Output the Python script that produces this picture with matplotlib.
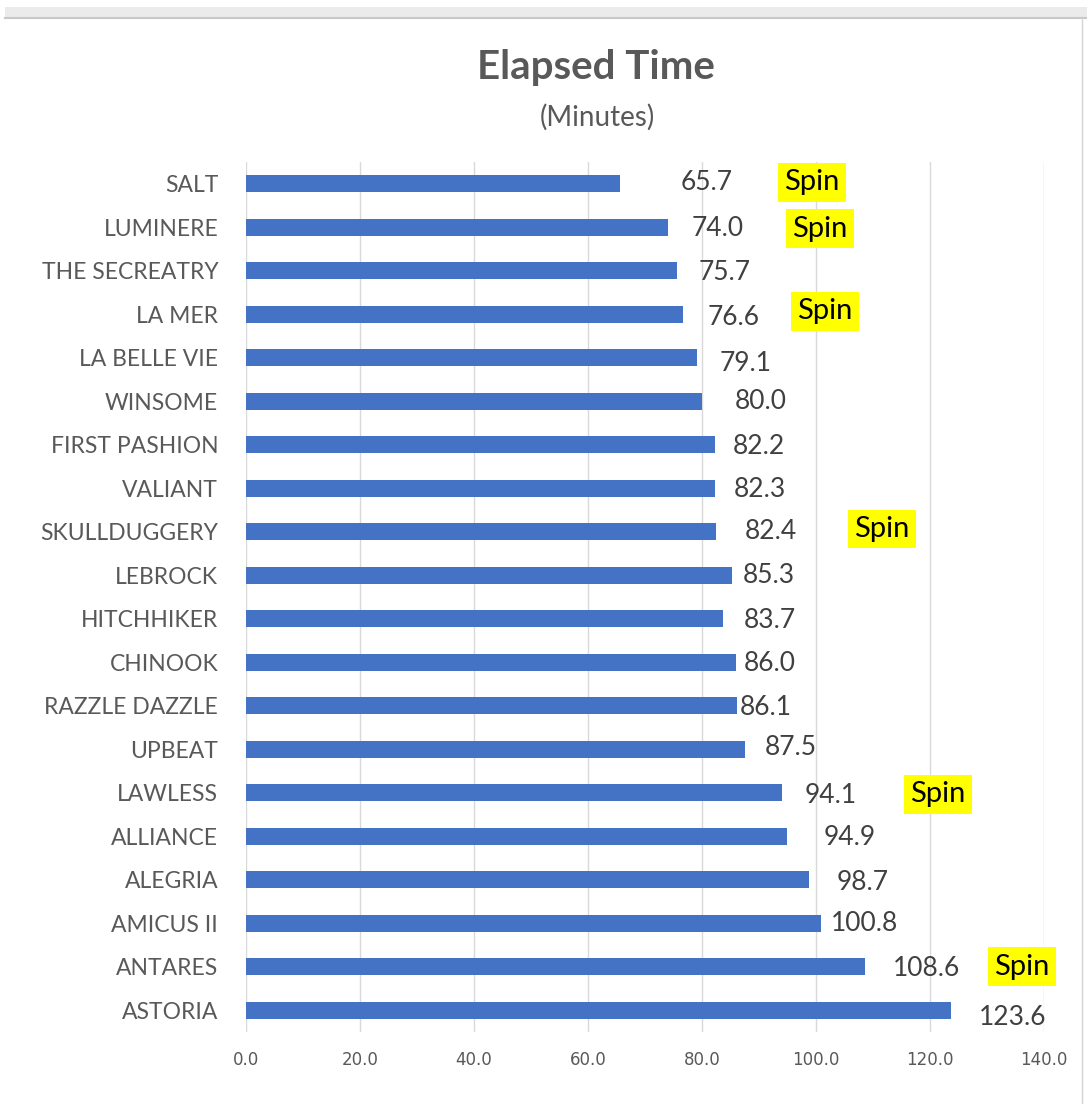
import numpy as np
import matplotlib.pyplot as plt
from matplotlib.patches import Rectangle
from matplotlib.lines import Line2D

boats = ['SALT', 'LUMINERE', 'THE SECREATRY', 'LA MER', 'LA BELLE VIE', 'WINSOME',
         'FIRST PASHION', 'VALIANT', 'SKULLDUGGERY', 'LEBROCK', 'HITCHHIKER', 'CHINOOK',
         'RAZZLE DAZZLE', 'UPBEAT', 'LAWLESS', 'ALLIANCE', 'ALEGRIA', 'AMICUS II',
         'ANTARES', 'ASTORIA']
minutes = [65.7, 74.0, 75.7, 76.6, 79.1, 80.0, 82.2, 82.3, 82.4, 85.3,
           83.7, 86.0, 86.1, 87.5, 94.1, 94.9, 98.7, 100.8, 108.6, 123.6]
spin_boats = ['SALT', 'LUMINERE', 'LA MER', 'SKULLDUGGERY', 'LAWLESS', 'ANTARES']
xticks = [0, 20, 40, 60, 80, 100, 120, 140]

# hand placed label offsets (points), the way they sit in the original
lab_dx = [62, 36, 34, 37, 35, 42, 32, 32, 40, 26, 34, 24, 21, 33, 35, 45, 39, 32, 44, 45]
lab_dy = [1, -1, -1, -2, -4, 0, -1, -1, 0, 0, -1, -1, -1, 1, -2, -1, -2, 0, -1, -5]
spin_x = [99.3, 100.7, 101.6, 111.6, 121.4, 136.1]
spin_dy = [1, -1, 2, 2, -1, 0]

plt.rcParams['font.family'] = ['Lato', 'DejaVu Sans']
gray = '#595959'

fig = plt.figure(figsize=(10.87, 11.04), dpi=100)
ax = fig.add_axes([246/1087, 1 - 1032/1104, (1044 - 246)/1087, (1032 - 162)/1104])

y = np.arange(len(boats))
ax.barh(y, minutes, height=0.4, color='#4472C4', zorder=3)
ax.set_ylim(len(boats) - 0.5, -0.5)
ax.set_xlim(0, 140)
ax.set_yticks(y)
ax.set_yticklabels(boats, fontsize=16.5, color=gray)
ax.set_xticks(xticks)
ax.set_xticklabels(['%.1f' % t for t in xticks], fontsize=12, color=gray,
                   family=['Liberation Sans Narrow', 'DejaVu Sans'])
ax.tick_params(axis='y', length=0, pad=20)
ax.tick_params(axis='x', length=0, pad=14)
ax.grid(axis='x', color='#D9D9D9', lw=1, zorder=0)
for s in ax.spines.values():
    s.set_visible(False)

for i, v in enumerate(minutes):
    ax.annotate('%.1f' % v, (v, i), xytext=(lab_dx[i], lab_dy[i]), textcoords='offset points',
                ha='center', va='center', fontsize=19, color='#404040')

for b, sx, dy in zip(spin_boats, spin_x, spin_dy):
    ax.annotate('Spin', (sx, boats.index(b)), xytext=(0, dy), textcoords='offset points',
                ha='center', va='center', fontsize=21, color='black', annotation_clip=False,
                bbox=dict(boxstyle='square,pad=0.22', fc='#FFFF00', ec='none'))

fig.text(596/1087, 1 - 68/1104, 'Elapsed Time', ha='center', va='center',
         fontsize=29, fontweight='bold', color=gray)
fig.text(597/1087, 1 - 117/1104, '(Minutes)', ha='center', va='center',
         fontsize=20, color=gray)

# frame of the screenshot
fig.patches.append(Rectangle((5/1087, 1 - 18/1104), 1, 11/1104, transform=fig.transFigure,
                             fc='#EBEBEB', ec='none'))
fig.lines.append(Line2D([5/1087, 1], [1 - 18/1104] * 2, transform=fig.transFigure,
                        color='#C8C8C8', lw=1.5))
fig.lines.append(Line2D([1082/1087] * 2, [0, 1 - 18/1104], transform=fig.transFigure,
                        color='#D4D4D4', lw=1))

fig.savefig('out.png', dpi=100)
